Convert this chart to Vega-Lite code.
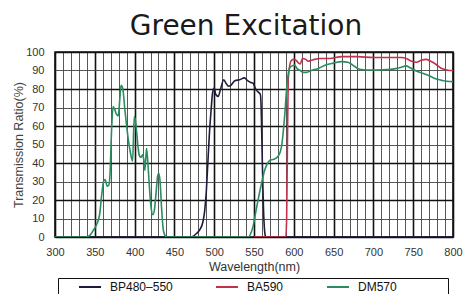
{
  "$schema": "https://vega.github.io/schema/vega-lite/v6.json",
  "autosize": "none",
  "width": 398,
  "height": 185,
  "padding": {"left": 55, "top": 52, "right": 11, "bottom": 57},
  "background": "white",
  "config": {
    "font": "Liberation Sans",
    "view": {"stroke": "#111", "strokeWidth": 1.6},
    "axis": {"labelFont": "Liberation Sans", "titleFont": "Liberation Sans", "titleFontWeight": "normal"}
  },
  "title": {
    "text": "Green Excitation",
    "font": "DejaVu Sans",
    "fontSize": 28,
    "fontWeight": "normal",
    "color": "#1a1a1a",
    "anchor": "middle",
    "dx": -8,
    "offset": 5
  },
  "data": {
    "values": [
      {"s": "BP480–550", "x": 300, "y": 0}, {"s": "BP480–550", "x": 470, "y": 0}, {"s": "BP480–550", "x": 474, "y": 0.5},
      {"s": "BP480–550", "x": 478, "y": 2}, {"s": "BP480–550", "x": 482, "y": 4}, {"s": "BP480–550", "x": 486, "y": 8.5},
      {"s": "BP480–550", "x": 488, "y": 14}, {"s": "BP480–550", "x": 490, "y": 24}, {"s": "BP480–550", "x": 492, "y": 40},
      {"s": "BP480–550", "x": 494, "y": 56}, {"s": "BP480–550", "x": 496, "y": 68}, {"s": "BP480–550", "x": 498, "y": 78},
      {"s": "BP480–550", "x": 500, "y": 80.5}, {"s": "BP480–550", "x": 502, "y": 77}, {"s": "BP480–550", "x": 505, "y": 76},
      {"s": "BP480–550", "x": 508, "y": 80}, {"s": "BP480–550", "x": 512, "y": 85}, {"s": "BP480–550", "x": 515, "y": 83},
      {"s": "BP480–550", "x": 518, "y": 81.5}, {"s": "BP480–550", "x": 521, "y": 82}, {"s": "BP480–550", "x": 526, "y": 84.5},
      {"s": "BP480–550", "x": 532, "y": 85}, {"s": "BP480–550", "x": 538, "y": 86}, {"s": "BP480–550", "x": 542, "y": 84.5},
      {"s": "BP480–550", "x": 546, "y": 83.5}, {"s": "BP480–550", "x": 549, "y": 83}, {"s": "BP480–550", "x": 552, "y": 80},
      {"s": "BP480–550", "x": 555, "y": 78.5}, {"s": "BP480–550", "x": 558, "y": 77}, {"s": "BP480–550", "x": 559, "y": 70},
      {"s": "BP480–550", "x": 560, "y": 50}, {"s": "BP480–550", "x": 561, "y": 30}, {"s": "BP480–550", "x": 562, "y": 14},
      {"s": "BP480–550", "x": 563, "y": 5}, {"s": "BP480–550", "x": 564, "y": 1}, {"s": "BP480–550", "x": 565, "y": 0},
      {"s": "BP480–550", "x": 800, "y": 0},

      {"s": "BA590", "x": 550, "y": 0}, {"s": "BA590", "x": 590, "y": 0}, {"s": "BA590", "x": 591, "y": 10},
      {"s": "BA590", "x": 592, "y": 50}, {"s": "BA590", "x": 593, "y": 85}, {"s": "BA590", "x": 595, "y": 93},
      {"s": "BA590", "x": 597, "y": 95.5}, {"s": "BA590", "x": 600, "y": 96}, {"s": "BA590", "x": 603, "y": 95.5},
      {"s": "BA590", "x": 606, "y": 94}, {"s": "BA590", "x": 608, "y": 93.5}, {"s": "BA590", "x": 611, "y": 96.5},
      {"s": "BA590", "x": 615, "y": 96}, {"s": "BA590", "x": 618, "y": 95}, {"s": "BA590", "x": 622, "y": 95.5},
      {"s": "BA590", "x": 626, "y": 96}, {"s": "BA590", "x": 633, "y": 96.5}, {"s": "BA590", "x": 645, "y": 96.5},
      {"s": "BA590", "x": 660, "y": 97.5}, {"s": "BA590", "x": 680, "y": 97.5}, {"s": "BA590", "x": 700, "y": 97},
      {"s": "BA590", "x": 720, "y": 97}, {"s": "BA590", "x": 735, "y": 97}, {"s": "BA590", "x": 742, "y": 96.3},
      {"s": "BA590", "x": 748, "y": 95}, {"s": "BA590", "x": 754, "y": 94.5}, {"s": "BA590", "x": 760, "y": 95.5},
      {"s": "BA590", "x": 766, "y": 96}, {"s": "BA590", "x": 772, "y": 95}, {"s": "BA590", "x": 778, "y": 93.5},
      {"s": "BA590", "x": 784, "y": 91.5}, {"s": "BA590", "x": 790, "y": 90.5}, {"s": "BA590", "x": 796, "y": 90},
      {"s": "BA590", "x": 800, "y": 90},

      {"s": "DM570", "x": 300, "y": 0}, {"s": "DM570", "x": 340, "y": 0}, {"s": "DM570", "x": 344, "y": 1},
      {"s": "DM570", "x": 348, "y": 3.5}, {"s": "DM570", "x": 352, "y": 6.5}, {"s": "DM570", "x": 356, "y": 12},
      {"s": "DM570", "x": 359, "y": 24}, {"s": "DM570", "x": 361, "y": 30}, {"s": "DM570", "x": 363, "y": 31},
      {"s": "DM570", "x": 365.5, "y": 27.5}, {"s": "DM570", "x": 367.5, "y": 28}, {"s": "DM570", "x": 369, "y": 33},
      {"s": "DM570", "x": 371, "y": 57}, {"s": "DM570", "x": 373, "y": 70.5}, {"s": "DM570", "x": 375, "y": 69},
      {"s": "DM570", "x": 377, "y": 66.5}, {"s": "DM570", "x": 379.5, "y": 65.5}, {"s": "DM570", "x": 381.5, "y": 75},
      {"s": "DM570", "x": 383, "y": 82}, {"s": "DM570", "x": 385, "y": 80.5}, {"s": "DM570", "x": 388, "y": 68},
      {"s": "DM570", "x": 392, "y": 53}, {"s": "DM570", "x": 395, "y": 45}, {"s": "DM570", "x": 397.5, "y": 41},
      {"s": "DM570", "x": 399.5, "y": 65}, {"s": "DM570", "x": 401, "y": 63}, {"s": "DM570", "x": 402.5, "y": 57},
      {"s": "DM570", "x": 404.5, "y": 48}, {"s": "DM570", "x": 406, "y": 44}, {"s": "DM570", "x": 408, "y": 43},
      {"s": "DM570", "x": 410, "y": 44.5}, {"s": "DM570", "x": 411.5, "y": 42}, {"s": "DM570", "x": 413, "y": 36},
      {"s": "DM570", "x": 415, "y": 48}, {"s": "DM570", "x": 417, "y": 38}, {"s": "DM570", "x": 419, "y": 24.5},
      {"s": "DM570", "x": 421, "y": 15}, {"s": "DM570", "x": 423, "y": 12}, {"s": "DM570", "x": 425, "y": 15},
      {"s": "DM570", "x": 427, "y": 24}, {"s": "DM570", "x": 429, "y": 33}, {"s": "DM570", "x": 430.5, "y": 34.5},
      {"s": "DM570", "x": 432, "y": 30}, {"s": "DM570", "x": 434, "y": 15}, {"s": "DM570", "x": 436, "y": 4},
      {"s": "DM570", "x": 438, "y": 1}, {"s": "DM570", "x": 440, "y": 0}, {"s": "DM570", "x": 543, "y": 0},
      {"s": "DM570", "x": 546, "y": 2}, {"s": "DM570", "x": 549, "y": 6}, {"s": "DM570", "x": 552, "y": 13},
      {"s": "DM570", "x": 556, "y": 22}, {"s": "DM570", "x": 560, "y": 30}, {"s": "DM570", "x": 563, "y": 35.5},
      {"s": "DM570", "x": 566, "y": 39}, {"s": "DM570", "x": 570, "y": 41.5}, {"s": "DM570", "x": 575, "y": 42},
      {"s": "DM570", "x": 580, "y": 43.5}, {"s": "DM570", "x": 583, "y": 46}, {"s": "DM570", "x": 585, "y": 50},
      {"s": "DM570", "x": 587, "y": 58}, {"s": "DM570", "x": 589, "y": 68}, {"s": "DM570", "x": 591, "y": 80},
      {"s": "DM570", "x": 593, "y": 88}, {"s": "DM570", "x": 595, "y": 91.5}, {"s": "DM570", "x": 598, "y": 92.5},
      {"s": "DM570", "x": 601, "y": 93}, {"s": "DM570", "x": 604, "y": 91}, {"s": "DM570", "x": 608, "y": 90},
      {"s": "DM570", "x": 612, "y": 89}, {"s": "DM570", "x": 616, "y": 89}, {"s": "DM570", "x": 622, "y": 90},
      {"s": "DM570", "x": 630, "y": 91}, {"s": "DM570", "x": 640, "y": 93}, {"s": "DM570", "x": 650, "y": 94},
      {"s": "DM570", "x": 660, "y": 94.8}, {"s": "DM570", "x": 668, "y": 94.5}, {"s": "DM570", "x": 672, "y": 93.5},
      {"s": "DM570", "x": 677, "y": 92}, {"s": "DM570", "x": 684, "y": 90.5}, {"s": "DM570", "x": 692, "y": 90.3},
      {"s": "DM570", "x": 705, "y": 90.3}, {"s": "DM570", "x": 717, "y": 90.5}, {"s": "DM570", "x": 728, "y": 91},
      {"s": "DM570", "x": 735, "y": 91.8}, {"s": "DM570", "x": 741, "y": 92.5}, {"s": "DM570", "x": 746, "y": 91.5},
      {"s": "DM570", "x": 754, "y": 89.7}, {"s": "DM570", "x": 762, "y": 88.5}, {"s": "DM570", "x": 771, "y": 87},
      {"s": "DM570", "x": 778, "y": 85.5}, {"s": "DM570", "x": 785, "y": 84.8}, {"s": "DM570", "x": 792, "y": 84.2},
      {"s": "DM570", "x": 800, "y": 84}
    ]
  },
  "mark": {"type": "line", "strokeWidth": 1.6, "interpolate": "monotone", "clip": true},
  "encoding": {
    "x": {
      "field": "x", "type": "quantitative",
      "scale": {"domain": [300, 800], "nice": false, "zero": false},
      "axis": {
        "title": "Wavelength(nm)",
        "titleFontSize": 12.5, "titleColor": "#333", "titlePadding": 3,
        "values": [300,310,320,330,340,350,360,370,380,390,400,410,420,430,440,450,460,470,480,490,500,510,520,530,540,550,560,570,580,590,600,610,620,630,640,650,660,670,680,690,700,710,720,730,740,750,760,770,780,790,800],
        "labelExpr": "datum.value % 50 === 0 ? datum.label : ''",
        "labelFontSize": 11, "labelColor": "#333", "labelPadding": 9, "labelOverlap": false, "labelFlush": false,
        "ticks": false, "domain": false,
        "grid": true,
        "gridColor": {"condition": {"test": "datum.value % 50 === 0", "value": "#111"}, "value": "#444"},
        "gridWidth": {"condition": {"test": "datum.value % 50 === 0", "value": 1.6}, "value": 0.9},
        "gridOpacity": 1
      }
    },
    "y": {
      "field": "y", "type": "quantitative",
      "scale": {"domain": [0, 100], "nice": false},
      "axis": {
        "title": "Transmission Ratio(%)",
        "titleFontSize": 12.5, "titleColor": "#444", "titlePadding": 0,
        "values": [0,10,20,30,40,50,60,70,80,90,100],
        "labelFontSize": 11, "labelColor": "#333", "labelPadding": 11, "labelOverlap": false,
        "ticks": false, "domain": false,
        "grid": true,
        "gridColor": {"condition": {"test": "datum.value % 20 === 0", "value": "#111"}, "value": "#444"},
        "gridWidth": {"condition": {"test": "datum.value % 20 === 0", "value": 1.6}, "value": 0.9},
        "gridOpacity": 1
      }
    },
    "color": {
      "field": "s", "type": "nominal",
      "scale": {"domain": ["BP480–550", "BA590", "DM570"], "range": ["#1e1c3c", "#c4304b", "#2a8c5f"]},
      "legend": {
        "title": "\u00a0",
        "titleOrient": "right",
        "titlePadding": 48,
        "orient": "none",
        "legendX": 3,
        "legendY": 226,
        "direction": "horizontal",
        "columns": 3,
        "symbolType": "stroke",
        "symbolSize": 484,
        "symbolStrokeWidth": 2,
        "symbolOffset": 17,
        "clipHeight": 12,
        "labelFontSize": 12,
        "labelColor": "#111",
        "labelOffset": 8,
        "columnPadding": 25,
        "padding": 3,
        "strokeColor": "#111",
        "fillColor": "white"
      }
    }
  }
}
